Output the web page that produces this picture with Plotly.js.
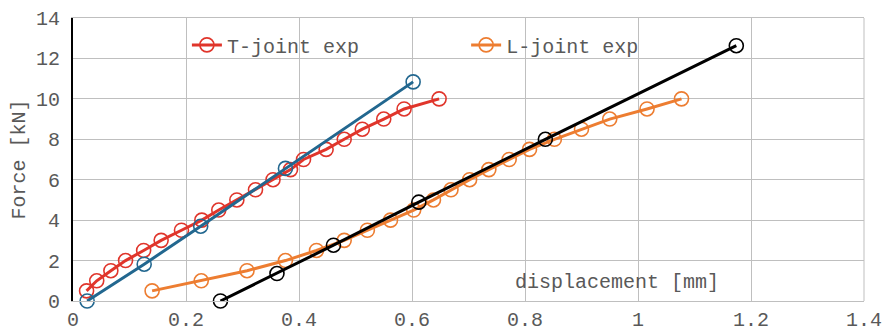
<!DOCTYPE html>
<html>
<head>
<meta charset="utf-8">
<script src="https://cdn.plot.ly/plotly-3.0.1.min.js"></script>
<style>html,body{margin:0;padding:0;background:#fff;}#chart{width:883px;height:332px;}</style>
</head>
<body>
<div id="chart"></div>
<script>
// T-joint experiment
const tExpX = [0.024, 0.042, 0.067, 0.093, 0.125, 0.156, 0.192, 0.228, 0.258, 0.290, 0.323, 0.354, 0.385, 0.408, 0.448, 0.480, 0.512, 0.550, 0.586, 0.648];
const tExpY = [0.5, 1.0, 1.5, 2.0, 2.5, 3.0, 3.5, 4.0, 4.5, 5.0, 5.5, 6.0, 6.5, 7.0, 7.5, 8.0, 8.5, 9.0, 9.5, 10.0];
// T-joint model (blue)
const tModX = [0.025, 0.126, 0.226, 0.376, 0.602];
const tModY = [0.0, 1.82, 3.70, 6.56, 10.84];
// L-joint experiment
const lExpX = [0.140, 0.227, 0.308, 0.376, 0.431, 0.480, 0.521, 0.562, 0.603, 0.638, 0.669, 0.702, 0.736, 0.772, 0.808, 0.852, 0.900, 0.950, 1.016, 1.077];
const lExpY = [0.5, 1.0, 1.5, 2.0, 2.5, 3.0, 3.5, 4.0, 4.5, 5.0, 5.5, 6.0, 6.5, 7.0, 7.5, 8.0, 8.5, 9.0, 9.5, 10.0];
// L-joint model (black)
const lModX = [0.261, 0.361, 0.461, 0.612, 0.836, 1.174];
const lModY = [0.0, 1.36, 2.76, 4.89, 8.0, 12.63];

const FONT = 'Liberation Mono, Courier New, monospace';
const GRAY = '#595959';

function tr(x, y, name, color, show, legend) {
  return {
    x: x, y: y, name: name, type: 'scatter', mode: 'lines+markers',
    line: {color: color, width: 3},
    marker: {symbol: 'circle-open', size: 14, color: color, line: {width: 1.6, color: color}},
    showlegend: show, legend: legend || 'legend', cliponaxis: false
  };
}

const data = [
  tr(tExpX, tExpY, 'T-joint exp', '#E0352B', true, 'legend'),
  tr(lExpX, lExpY, 'L-joint exp', '#ED7D31', true, 'legend2'),
  tr(tModX, tModY, 'T-joint model', '#22678F', false),
  tr(lModX, lModY, 'L-joint model', '#000000', false)
];

const legendCommon = {
  orientation: 'h', bgcolor: 'rgba(0,0,0,0)', borderwidth: 0,
  font: {family: FONT, size: 20, color: GRAY},
  xanchor: 'left', yanchor: 'middle', y: 0.905, itemwidth: 30
};

const layout = {
  width: 883, height: 332,
  margin: {l: 73, r: 19, t: 18, b: 31, pad: 0},
  paper_bgcolor: '#fff', plot_bgcolor: '#fff',
  font: {family: FONT, size: 20, color: GRAY},
  xaxis: {
    range: [0, 1.4], dtick: 0.2, tick0: 0, showgrid: true, gridcolor: '#BFBFBF', gridwidth: 1,
    zeroline: false, showline: true, linecolor: '#BFBFBF', linewidth: 1, mirror: true,
    ticks: '', tickfont: {family: FONT, size: 20, color: GRAY}, fixedrange: true
  },
  yaxis: {
    range: [0, 14], dtick: 2, tick0: 0, showgrid: true, gridcolor: '#BFBFBF', gridwidth: 1,
    zeroline: false, showline: true, linecolor: '#000000', linewidth: 2,
    ticks: '', ticklabelstandoff: 7, tickfont: {family: FONT, size: 20, color: GRAY},
    title: {text: 'Force [kN]', font: {family: FONT, size: 20, color: GRAY}, standoff: 5}
  },
  legend: Object.assign({}, legendCommon, {x: 0.144}),
  legend2: Object.assign({}, legendCommon, {x: 0.497}),
  shapes: [
    {type: 'line', xref: 'paper', yref: 'paper', x0: 1, x1: 1, y0: 0, y1: 1, line: {color: '#BFBFBF', width: 1}, layer: 'below'}
  ],
  annotations: [
    {text: 'displacement [mm]', xref: 'paper', yref: 'paper', x: 0.688, y: 0.065, xanchor: 'center', yanchor: 'middle',
     showarrow: false, font: {family: FONT, size: 20, color: GRAY}}
  ]
};

Plotly.newPlot('chart', data, layout, {displayModeBar: false, staticPlot: true});
</script>
</body>
</html>
